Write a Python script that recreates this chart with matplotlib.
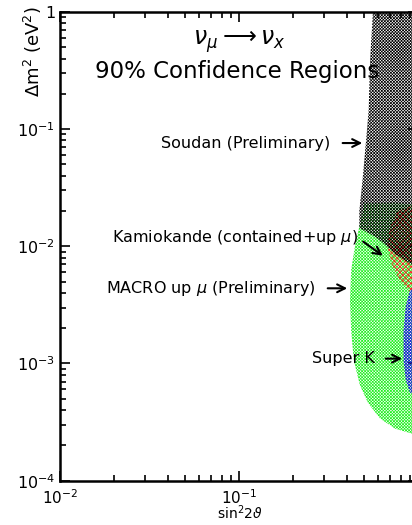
import matplotlib.pyplot as plt
from matplotlib.ticker import FixedLocator, FixedFormatter, LogLocator, NullFormatter

# Allowed regions (sin^2 2theta, delta m^2 in eV^2), traced as closed outlines
soudan_x = [0.56, 0.54, 0.53, 0.51, 0.49, 0.47, 0.47, 0.58, 0.66, 0.75, 0.93, 1.0, 1.0]
soudan_y = [1.0, 0.39, 0.145, 0.073, 0.037, 0.020, 0.0143, 0.012, 0.0102, 0.0085, 0.0069, 0.0065, 1.0]

macro_x = [0.50, 0.486, 0.445, 0.423, 0.417, 0.423, 0.438, 0.474, 0.526, 0.614, 0.745, 0.925, 1.0, 1.0, 0.75]
macro_y = [0.0233, 0.0184, 0.0102, 0.00624, 0.00345, 0.00191, 0.00106, 6.5e-4, 4.6e-4, 3.39e-4,
           2.78e-4, 2.52e-4, 2.5e-4, 0.0225, 0.0235]

kamiokande_x = [0.764, 0.698, 0.672, 0.716, 0.794, 0.902, 1.0, 1.0, 0.85]
kamiokande_y = [0.0195, 0.0143, 0.0102, 0.0069, 0.0051, 0.00404, 0.0038, 0.0224, 0.0215]

superk_x = [0.902, 0.855, 0.83, 0.83, 0.855, 0.902, 1.0, 1.0]
superk_y = [0.00421, 0.00313, 0.00191, 0.00106, 7.2e-4, 5.65e-4, 5.3e-4, 0.00464]

# Labels: text end point, arrow start and arrow tip
labels = ["Soudan (Preliminary)", r"Kamiokande (contained+up $\mu$)",
          r"MACRO up $\mu$ (Preliminary)", "Super K"]
label_x = [0.322, 0.462, 0.269, 0.575]
label_y = [0.076, 0.0119, 0.00438, 0.0011]
arrow_from = [(0.366, 0.076), (0.480, 0.0113), (0.302, 0.00438), (0.637, 0.0011)]
arrow_to = [(0.506, 0.076), (0.655, 0.00805), (0.417, 0.00438), (0.845, 0.0011)]

plt.rcParams["hatch.linewidth"] = 0.5

fig = plt.figure(figsize=(4.12, 5.25), dpi=100)
ax = fig.add_axes([0.1456, 0.0844, 0.869, 0.893])
ax.set_xscale("log")
ax.set_yscale("log")
ax.set_xlim(1e-2, 1)
ax.set_ylim(1e-4, 1)

fine = "x" * 11
ax.fill(macro_x, macro_y, facecolor="none", edgecolor="#22ee22", hatch=fine, linewidth=0, zorder=1)
ax.fill(kamiokande_x, kamiokande_y, facecolor="none", edgecolor="#ff1a1a", hatch="x" * 6, linewidth=0, zorder=2)
ax.fill(superk_x, superk_y, facecolor="none", edgecolor="#1a1ae0", hatch=fine, linewidth=0, zorder=3)
ax.fill(soudan_x, soudan_y, facecolor="none", edgecolor="black", hatch=fine, linewidth=0, zorder=4)

for text, tx, ty, a0, a1 in zip(labels, label_x, label_y, arrow_from, arrow_to):
    ax.text(tx, ty, text, ha="right", va="center", fontsize=11.5)
    ax.annotate("", xy=a1, xytext=a0,
                arrowprops=dict(arrowstyle="->", color="black", lw=1.5, mutation_scale=14))

ax.text(0.1, 0.56, r"$\nu_\mu \longrightarrow \nu_x$", ha="center", va="center", fontsize=17)
ax.text(0.098, 0.31, "90% Confidence Regions", ha="center", va="center", fontsize=16.5)

ax.xaxis.set_major_locator(FixedLocator([1e-2, 1e-1]))
ax.xaxis.set_major_formatter(FixedFormatter([r"10$^{-2}$", r"10$^{-1}$"]))
ax.yaxis.set_major_locator(FixedLocator([1e-4, 1e-3, 1e-2, 1e-1, 1]))
ax.yaxis.set_major_formatter(FixedFormatter([r"10$^{-4}$", r"10$^{-3}$", r"10$^{-2}$", r"10$^{-1}$", "1"]))
for axis in (ax.xaxis, ax.yaxis):
    axis.set_minor_locator(LogLocator(base=10, subs=range(2, 10)))
    axis.set_minor_formatter(NullFormatter())

ax.tick_params(which="both", direction="in", top=True, right=True, width=1.2, labelsize=11.5)
ax.tick_params(axis="x", labelsize=11, pad=5.5)
ax.tick_params(which="major", length=7)
ax.tick_params(which="minor", length=4)
for spine in ax.spines.values():
    spine.set_linewidth(1.8)

ax.set_xlabel(r"sin$^2$2$\vartheta$", fontsize=10, va="bottom")
ax.xaxis.set_label_coords(0.503, -0.089)
ax.set_ylabel(r"$\Delta$m$^2$ (eV$^2$)", fontsize=13)
ax.yaxis.set_label_coords(-0.045, 0.915)

fig.savefig("out.png", dpi=100)
